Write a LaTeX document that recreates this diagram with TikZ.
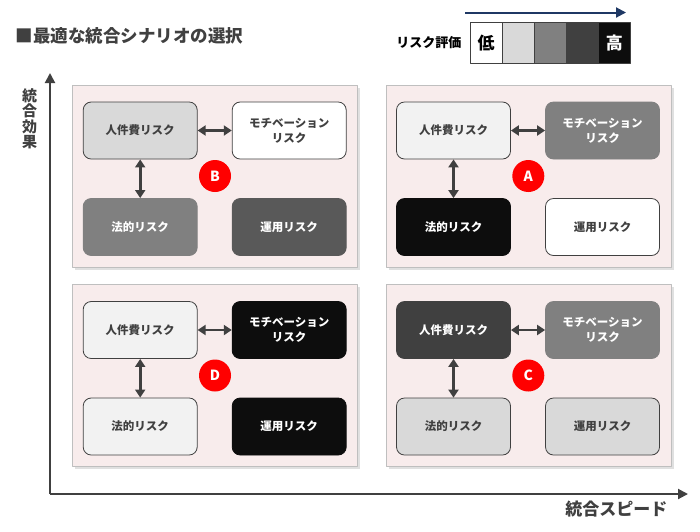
\documentclass[tikz,border=0pt]{standalone}
\usepackage{fontspec}
\setmainfont{Noto Sans CJK JP}
\usetikzlibrary{arrows.meta}
\definecolor{panelpink}{HTML}{F8ECEC}
\definecolor{panelline}{HTML}{BFBFBF}
\definecolor{axisgray}{HTML}{404040}
\definecolor{navyline}{HTML}{1F3864}
\definecolor{riskred}{HTML}{FF0000}
\tikzset{
  riskbox/.style={draw=axisgray, line width=0.8pt, rounded corners=8pt, minimum width=114pt,
    minimum height=57pt, inner sep=0pt, align=center, font=\fontsize{11.5}{15}\selectfont\bfseries},
  lvw/.style={riskbox, fill=white, text=axisgray},
  lv1/.style={riskbox, fill=black!5, text=axisgray},
  lv2/.style={riskbox, fill=black!15, text=axisgray},
  lv3/.style={riskbox, fill=black!50, draw=black!50, text=white},
  lv4/.style={riskbox, fill=black!65, draw=black!65, text=white},
  lv45/.style={riskbox, fill=black!75, draw=black!75, text=white},
  lv5/.style={riskbox, fill=black!95, draw=black!95, text=white},
  panel/.style={fill=panelpink, draw=panelline, line width=0.8pt},
  link/.style={{Triangle[length=8pt,width=10pt]}-{Triangle[length=8pt,width=10pt]}, line width=2.6pt, draw=axisgray},
  tagdot/.style={circle, fill=riskred, text=white, minimum size=32pt, inner sep=0pt,
    font=\fontsize{14}{14}\selectfont\bfseries},
  cell/.style={draw=axisgray, line width=0.6pt, minimum width=31.5pt, minimum height=40.6pt,
    inner sep=0pt, font=\fontsize{17}{17}\selectfont\bfseries},
}
\begin{document}
\begin{tikzpicture}[x=1pt, y=-1pt, line join=round]
  \useasboundingbox (0,0) rectangle (700,531);
  % titre
  \node[anchor=west, text=axisgray, font=\fontsize{17.5}{17.5}\selectfont\bfseries] (title) at (12,36) {■最適な統合シナリオの選択};
  % legende
  \node[anchor=east, text=black, font=\fontsize{13}{13}\selectfont\bfseries] (leglab) at (465,43) {リスク評価};
  \node[cell, fill=white, text=black, anchor=west] (c1) at (470,43) {低};
  \node[cell, fill=black!15, anchor=west] (c2) at (c1.east) {};
  \node[cell, fill=black!50, anchor=west] (c3) at (c2.east) {};
  \node[cell, fill=black!75, anchor=west] (c4) at (c3.east) {};
  \node[cell, fill=black!95, text=white, anchor=west] (c5) at (c4.east) {高};
  \coordinate (la) at (465,12.5);
  \coordinate (lb) at (626,12.5);
  \draw[navyline, line width=2pt, -{Triangle[length=10pt,width=10pt]}] (la) -- (lb);
  % axes
  \coordinate (O) at (50,494);
  \coordinate (ytop) at (50,73);
  \coordinate (xend) at (688,494);
  \draw[axisgray, line width=2pt, -{Triangle[length=10pt,width=10pt]}] (O) -- (ytop);
  \draw[axisgray, line width=2pt, -{Triangle[length=10pt,width=10pt]}] (O) -- (xend);
  \node[text=axisgray, align=center, font=\fontsize{15}{15.5}\selectfont\bfseries] (ylab) at (29.5,119) {統\\合\\効\\果};
  \node[anchor=east, text=axisgray, font=\fontsize{17}{17}\selectfont\bfseries] (xlab) at (671,509) {統合スピード};
  % scenarios
  \foreach \px/\py/\tag/\sa/\sb/\sc/\sd in {72.7/85/B/lv2/lvw/lv3/lv4, 386/85/A/lv1/lv3/lv5/lvw,
      72.7/284.5/D/lv1/lv5/lv1/lv5, 386/284.5/C/lv45/lv3/lv2/lv2}{
    \fill[black!12] (\px+2.5,\py+2.5) rectangle ++(285,182);
    \draw[panel] (\px,\py) rectangle ++(285,182);
    \node[\sa] (hr\tag) at (\px+67.5,\py+45.5) {人件費リスク};
    \node[\sb] (mo\tag) at (\px+216.5,\py+45.5) {モチベーション\\リスク};
    \node[\sc] (lg\tag) at (\px+67.5,\py+142) {法的リスク};
    \node[\sd] (op\tag) at (\px+216.5,\py+142) {運用リスク};
    \draw[link] (hr\tag) -- (mo\tag);
    \draw[link] (hr\tag) -- (lg\tag);
    \node[tagdot] (dot\tag) at (\px+142.3,\py+91) {\tag};
  }
\end{tikzpicture}
\end{document}
